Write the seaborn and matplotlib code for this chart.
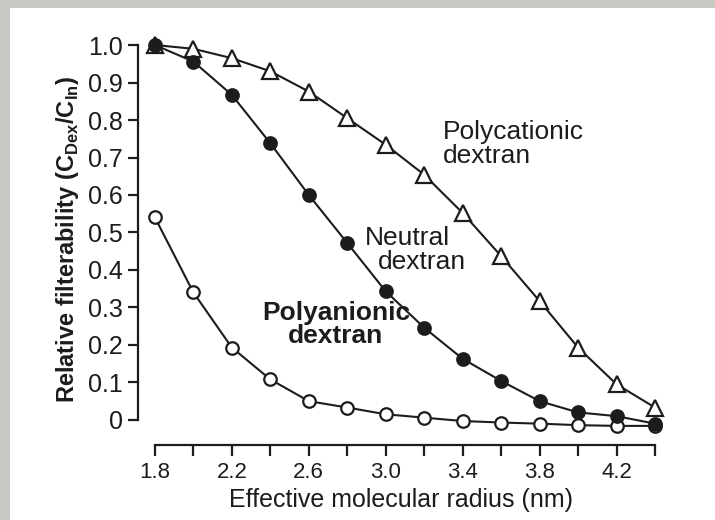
import numpy as np
import pandas as pd
import matplotlib
matplotlib.use("Agg")
import matplotlib.pyplot as plt
from matplotlib.patches import Rectangle
from matplotlib.ticker import FixedLocator
import seaborn as sns

# effective molecular radius (nm)
radius = [1.8, 2.0, 2.2, 2.4, 2.6, 2.8, 3.0, 3.2, 3.4, 3.6, 3.8, 4.0, 4.2, 4.4]

# relative filterability C_Dex / C_In
polycationic = [1.00, 0.99, 0.965, 0.93, 0.876, 0.805, 0.734, 0.654, 0.552, 0.437, 0.317, 0.193, 0.095, 0.033]
neutral = [1.00, 0.956, 0.867, 0.738, 0.60, 0.472, 0.343, 0.246, 0.163, 0.104, 0.05, 0.02, 0.01, -0.01]
polyanionic = [0.54, 0.34, 0.193, 0.108, 0.05, 0.033, 0.015, 0.006, -0.003, -0.007, -0.01, -0.014, -0.016, -0.016]

y_ticks = [0, 0.1, 0.2, 0.3, 0.4, 0.5, 0.6, 0.7, 0.8, 0.9, 1.0]
y_tick_labels = ["0", "0.1", "0.2", "0.3", "0.4", "0.5", "0.6", "0.7", "0.8", "0.9", "1.0"]
x_major = [1.8, 2.2, 2.6, 3.0, 3.4, 3.8, 4.2]
x_minor = [2.0, 2.4, 2.8, 3.2, 3.6, 4.0, 4.4]

INK = "#1c1c1c"

sns.set_style("ticks")
plt.rcParams["font.family"] = ["Liberation Sans", "DejaVu Sans"]
plt.rcParams["mathtext.fontset"] = "custom"
plt.rcParams["mathtext.rm"] = "Liberation Sans"
plt.rcParams["mathtext.bf"] = "Liberation Sans:bold"

fig = plt.figure(figsize=(7.15, 5.2), dpi=100, facecolor="#c9c9c4")
# white slide panel behind the chart
panel = Rectangle((10 / 715, 0), 1, 1 - 8 / 520, transform=fig.transFigure,
                  facecolor="white", edgecolor="none", zorder=-10)
fig.patches.append(panel)

ax = fig.add_axes([0.193, 0.1442, 0.7365, 0.7908])
ax.set_zorder(5)
ax.set_facecolor("none")

df = pd.DataFrame({"radius": radius, "poly_cat": polycationic,
                   "neutral": neutral, "poly_an": polyanionic})

common = dict(color=INK, linewidth=1.5, markeredgewidth=1.6, markeredgecolor=INK, clip_on=False)
sns.lineplot(data=df, x="radius", y="poly_an", ax=ax, marker="o", markersize=9,
             markerfacecolor="white", zorder=3, **common)
sns.lineplot(data=df, x="radius", y="poly_cat", ax=ax, marker="^", markersize=11,
             markerfacecolor="white", zorder=3, **common)
sns.lineplot(data=df, x="radius", y="neutral", ax=ax, marker="o", markersize=9,
             markerfacecolor=INK, zorder=4, **common)

ax.set_xlim(1.712, 4.45)
ax.set_ylim(-0.067, 1.03)

ax.spines["top"].set_visible(False)
ax.spines["right"].set_visible(False)
ax.spines["left"].set_bounds(0, 1.0)
ax.spines["bottom"].set_bounds(1.8, 4.4)
for s in ("left", "bottom"):
    ax.spines[s].set_color(INK)
    ax.spines[s].set_linewidth(1.6)

ax.set_yticks(y_ticks)
ax.set_yticklabels(y_tick_labels)
ax.xaxis.set_major_locator(FixedLocator(x_major))
ax.xaxis.set_minor_locator(FixedLocator(x_minor))
ax.set_xticklabels([f"{v:.1f}" for v in x_major])
ax.tick_params(axis="y", direction="out", length=7, width=1.6, color=INK,
               labelsize=18, labelcolor=INK, pad=4)
ax.tick_params(axis="x", which="both", direction="out", length=8, width=1.6, color=INK,
               labelsize=16, labelcolor=INK, pad=4)

ax.set_xlabel("Effective molecular radius (nm)", fontsize=18, color=INK, labelpad=4)
ax.set_ylabel(r"Relative filterability (C$_{\mathbf{Dex}}$/C$_{\mathbf{In}}$)",
              fontsize=17, fontweight="bold", color=INK, labelpad=5)

ax.text(3.298, 0.737, "Polycationic\ndextran", fontsize=19, color=INK,
        ha="left", va="center", linespacing=1.0)
ax.text(2.892, 0.485, "Neutral", fontsize=19, color=INK, ha="left", va="center")
ax.text(2.96, 0.42, "dextran", fontsize=19, color=INK, ha="left", va="center")
ax.text(2.741, 0.2545, "Polyanionic\ndextran", fontsize=19, fontweight="bold", color=INK,
        ha="center", va="center", linespacing=0.95)

fig.savefig("out.png", dpi=100, facecolor=fig.get_facecolor())
